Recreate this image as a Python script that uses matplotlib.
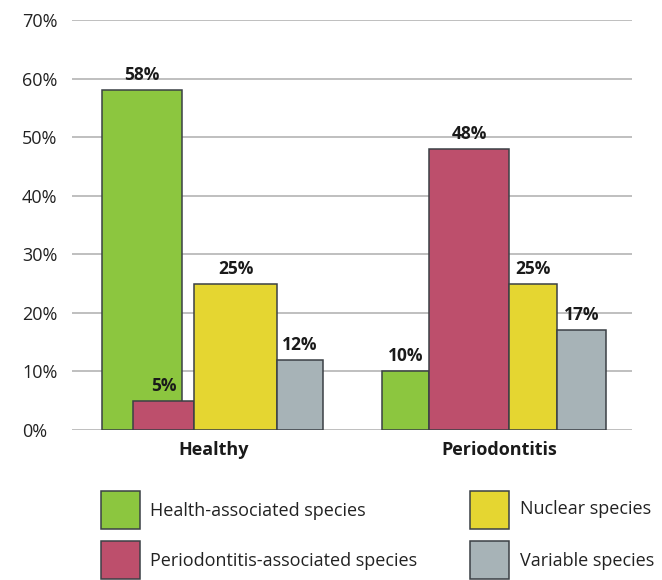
import matplotlib
matplotlib.use('Agg')
import matplotlib.pyplot as plt
from matplotlib.patches import Rectangle

plt.rcParams['font.family'] = ['Open Sans', 'DejaVu Sans']

groups = ['Healthy', 'Periodontitis']
series = ['Health-associated species', 'Periodontitis-associated species',
          'Nuclear species', 'Variable species']
values = {
    'Health-associated species': [58, 10],
    'Periodontitis-associated species': [5, 48],
    'Nuclear species': [25, 25],
    'Variable species': [12, 17],
}
yticks = [0, 10, 20, 30, 40, 50, 60, 70]

colors = ['#8cc63f', '#bd4f6c', '#e5d631', '#a7b3b7']
edge = '#3b4045'

# bar extents (left, right) per group, in axis units
extents = {
    'Health-associated species': [(29.7, 109.7), (309.7, 357.3)],
    'Periodontitis-associated species': [(61.3, 122.3), (357.3, 437.0)],
    'Nuclear species': [(122.3, 205.3), (437.0, 485.3)],
    'Variable species': [(205.3, 250.7), (485.3, 534.0)],
}
group_x = [142, 427]

fig = plt.figure(figsize=(6.62, 5.8), dpi=100)
ax = fig.add_axes([72 / 662, 150 / 580, 560 / 662, 410 / 580])

for s, c in zip(series, colors):
    for (l, r), v in zip(extents[s], values[s]):
        ax.bar(l, v, width=r - l, align='edge', color=c, edgecolor=edge,
               linewidth=1.1, zorder=3)
        ax.text((l + r) / 2, v + 1.7, f'{v}%', ha='center', va='baseline',
                fontsize=12.5, fontweight='bold', fontstretch='normal',
                color='#1a1a1a', zorder=4)

ax.set_xlim(0, 560)
ax.set_ylim(0, 70)
ax.set_yticks(yticks)
ax.set_yticklabels([f'{t}%' for t in yticks], fontsize=13, color='#222222', ha='left')
ax.tick_params(axis='y', length=0, pad=36)
ax.set_xticks(group_x)
ax.set_xticklabels(groups, fontsize=13, fontweight='bold', fontstretch='normal',
                   color='#1a1a1a')
ax.tick_params(axis='x', length=0, pad=8)
ax.grid(axis='y', color='#b4b4b4', linewidth=1.2, zorder=0)
for sp in ax.spines.values():
    sp.set_visible(False)

# legend
lg = fig.add_axes([0, 0, 1, 1], zorder=-1)
lg.set_xlim(0, 662)
lg.set_ylim(580, 0)
lg.axis('off')
legend_pos = [(101, 491, 150, 511), (101, 541, 150, 561),
              (470, 491, 520, 509), (470, 541, 520, 561)]
for s, c, (px, py, tx, ty) in zip(series, colors, legend_pos):
    lg.add_patch(Rectangle((px, py), 39, 38, facecolor=c, edgecolor=edge, linewidth=1.1))
    lg.text(tx, ty, s, fontsize=13, color='#222222', va='center', ha='left')

fig.savefig('out.png', dpi=100)
